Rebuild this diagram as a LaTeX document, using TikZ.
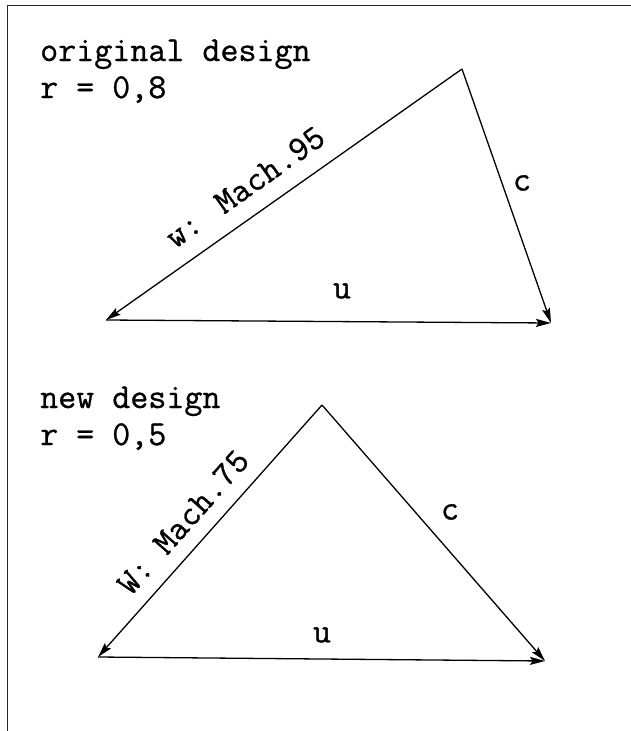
\documentclass[tikz,border=0pt]{standalone}
\usepackage{fontspec}
\newfontfamily\typefont[FakeBold=0.8]{Latin Modern Mono}
\usetikzlibrary{arrows.meta}
\begin{document}
\begin{tikzpicture}[x=1pt,y=-1pt,
  txt/.style={inner sep=0pt,font=\typefont\fontsize{35}{37}\selectfont},
  vec/.style={line width=1.3pt,-{Stealth[length=15pt,width=8pt,inset=2.5pt]}},
  frame/.style={line width=1.5pt,black!85}]
\useasboundingbox (0,0) rectangle (631,731);
\fill[white] (0,0) rectangle (631,731);
% frame (top and left only)
\coordinate (f0) at (7.5,731);
\coordinate (f1) at (7.5,5.5);
\coordinate (f2) at (631,5.5);
\draw[frame] (f0) -- (f1) -- (f2);
% ---------- original design ----------
\node[txt,anchor=base west] (t1) at (40,61) {original design};
\node[txt,anchor=base west] (r1) at (40,98) {r = 0,8};
\coordinate (A1) at (462,69);
\coordinate (L1) at (106,320);
\coordinate (R1) at (551,323);
\draw[vec] (A1) -- (L1);
\draw[vec] (A1) -- (R1);
\draw[vec] (L1) -- (R1);
\node[txt,rotate=35.2] (w1) at (245,187) {w: Mach.95};
\node[txt] (c1) at (522,183) {c};
\node[txt] (u1) at (342,291) {u};
% ---------- new design ----------
\node[txt,anchor=base west] (t2) at (40,408) {new design};
\node[txt,anchor=base west] (r2) at (40,445) {r = 0,5};
\coordinate (A2) at (322,405);
\coordinate (L2) at (98,657);
\coordinate (R2) at (545,661);
\draw[vec] (A2) -- (L2);
\draw[vec] (A2) -- (R2);
\draw[vec] (L2) -- (R2);
\node[txt,rotate=48.4] (w2) at (183,522) {W: Mach.75};
\node[txt] (c2) at (450,512) {c};
\node[txt] (u2) at (322,635) {u};
\end{tikzpicture}
\end{document}
